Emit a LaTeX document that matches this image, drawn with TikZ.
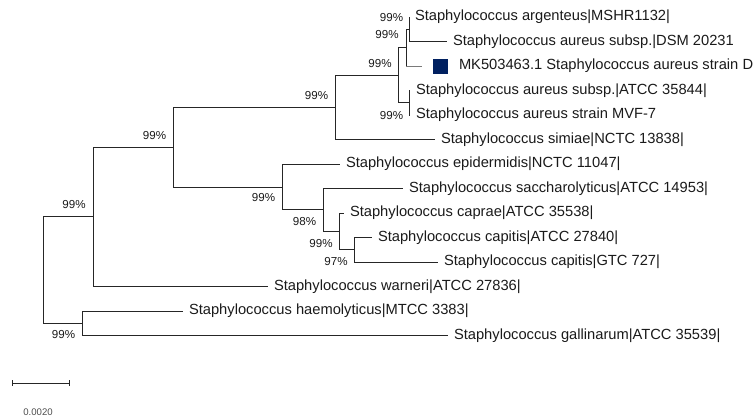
\documentclass[tikz,border=0pt]{standalone}
\usepackage{fontspec}
\setmainfont{Liberation Sans}
\usetikzlibrary{arrows.meta}
\definecolor{phyInk}{HTML}{1A1A1A}
\definecolor{phyLine}{HTML}{262626}
\definecolor{phyQuery}{HTML}{7A7A7A}
\definecolor{phyNavy}{HTML}{002060}
\definecolor{phyGray}{HTML}{4D4D4D}
\tikzset{
  phy branch/.style={draw=phyLine, line width=1pt},
  phy query branch/.style={draw=phyQuery, line width=1pt},
  phy tip/.style={anchor=west, inner xsep=6pt, inner ysep=0pt, outer sep=0pt, font=\fontsize{14.7}{16}\selectfont, text=phyInk},
  phy boot/.style={inner sep=0pt, font=\fontsize{11.6}{13}\selectfont, text=phyInk},
  phy mark/.style={fill=phyNavy, minimum size=15pt, inner sep=0pt},
  phy scale/.style={inner sep=0pt, font=\fontsize{9.6}{11}\selectfont, text=phyGray},
}

\begin{document}
\begin{tikzpicture}[x=1pt, y=-1pt]
  \useasboundingbox (0,0) rectangle (756,416);
  \clip (0,0) rectangle (756,416);

  % tip labels (branch ends)
  \foreach \tn/\tx/\ty/\tl in {
      arg/409/17/Staphylococcus argenteus|MSHR1132|,
      dsm/447/41.5/Staphylococcus aureus subsp.|DSM 20231,
      atcca/410/90.5/Staphylococcus aureus subsp.|ATCC 35844|,
      mvf/410/115/Staphylococcus aureus strain MVF-7,
      sim/435/139.5/Staphylococcus simiae|NCTC 13838|,
      epi/340/164/Staphylococcus epidermidis|NCTC 11047|,
      sac/403/188.5/Staphylococcus saccharolyticus|ATCC 14953|,
      cap/344/213/Staphylococcus caprae|ATCC 35538|,
      cpa/372/237.5/Staphylococcus capitis|ATCC 27840|,
      cpg/438/262/Staphylococcus capitis|GTC 727|,
      war/268/286.5/Staphylococcus warneri|ATCC 27836|,
      hae/183/311/Staphylococcus haemolyticus|MTCC 3383|,
      gal/448/335.5/Staphylococcus gallinarum|ATCC 35539|} {
    \node[phy tip] (\tn) at (\tx,\ty) {\tl};
  }

  % query sequence with marker
  \coordinate (mkfork) at (406,66);
  \coordinate (mkend) at (422,66);
  \node[phy mark] (mkbox) at (440.5,66) {};
  \node[phy tip] (mk) at (453,66) {MK503463.1 Staphylococcus aureus strain D};

  % internal nodes
  \coordinate (n1) at (409,29);
  \coordinate (n2) at (406,47.5);
  \coordinate (n4) at (409,102.75);
  \coordinate (n3) at (398,75);
  \coordinate (n5) at (335,107.25);
  \coordinate (n9) at (354,249.75);
  \coordinate (n8) at (339,231.4);
  \coordinate (n7) at (323,209.9);
  \coordinate (n6) at (282,187);
  \coordinate (n10) at (173,147.1);
  \coordinate (n11) at (93,216.75);
  \coordinate (n12) at (82,323.25);
  \coordinate (root) at (43,270);

  % branches
  \foreach \pa/\ch in {n1/arg.west, n1/dsm.west, n2/n1, n4/atcca.west, n4/mvf.west,
      n3/n2, n3/n4, n5/n3, n5/sim.west, n9/cpa.west, n9/cpg.west, n8/cap.west,
      n8/n9, n7/sac.west, n7/n8, n6/epi.west, n6/n7, n10/n5, n10/n6,
      n11/n10, n11/war.west, n12/hae.west, n12/gal.west, root/n11, root/n12} {
    \draw[phy branch] (\pa) |- (\ch);
  }
  \draw[phy branch] (n2) -- (mkfork);
  \draw[phy query branch] (mkfork) -- (mkend);

  % bootstrap values
  \foreach \bn/\bx/\by/\bv in {n1/391.5/18/99, n2/387/35/99, n3/380/64/99,
      n4/391.5/116/99, n5/316.5/96/99, n10/154.5/136/99, n6/263.5/198/99,
      n7/304.5/222/98, n8/321/244/99, n9/336/262/97, n11/74/205/99,
      n12/63.5/335/99} {
    \node[phy boot] (b\bn) at (\bx,\by) {\bv\%};
  }

  % scale bar
  \coordinate (sbl) at (12,383);
  \coordinate (sbr) at (70,383);
  \draw[phy branch, {Bar[width=6pt]}-{Bar[width=6pt]}] (sbl) -- (sbr);
  \node[phy scale] (sbtext) at (38,412) {0.0020};
\end{tikzpicture}
\end{document}
